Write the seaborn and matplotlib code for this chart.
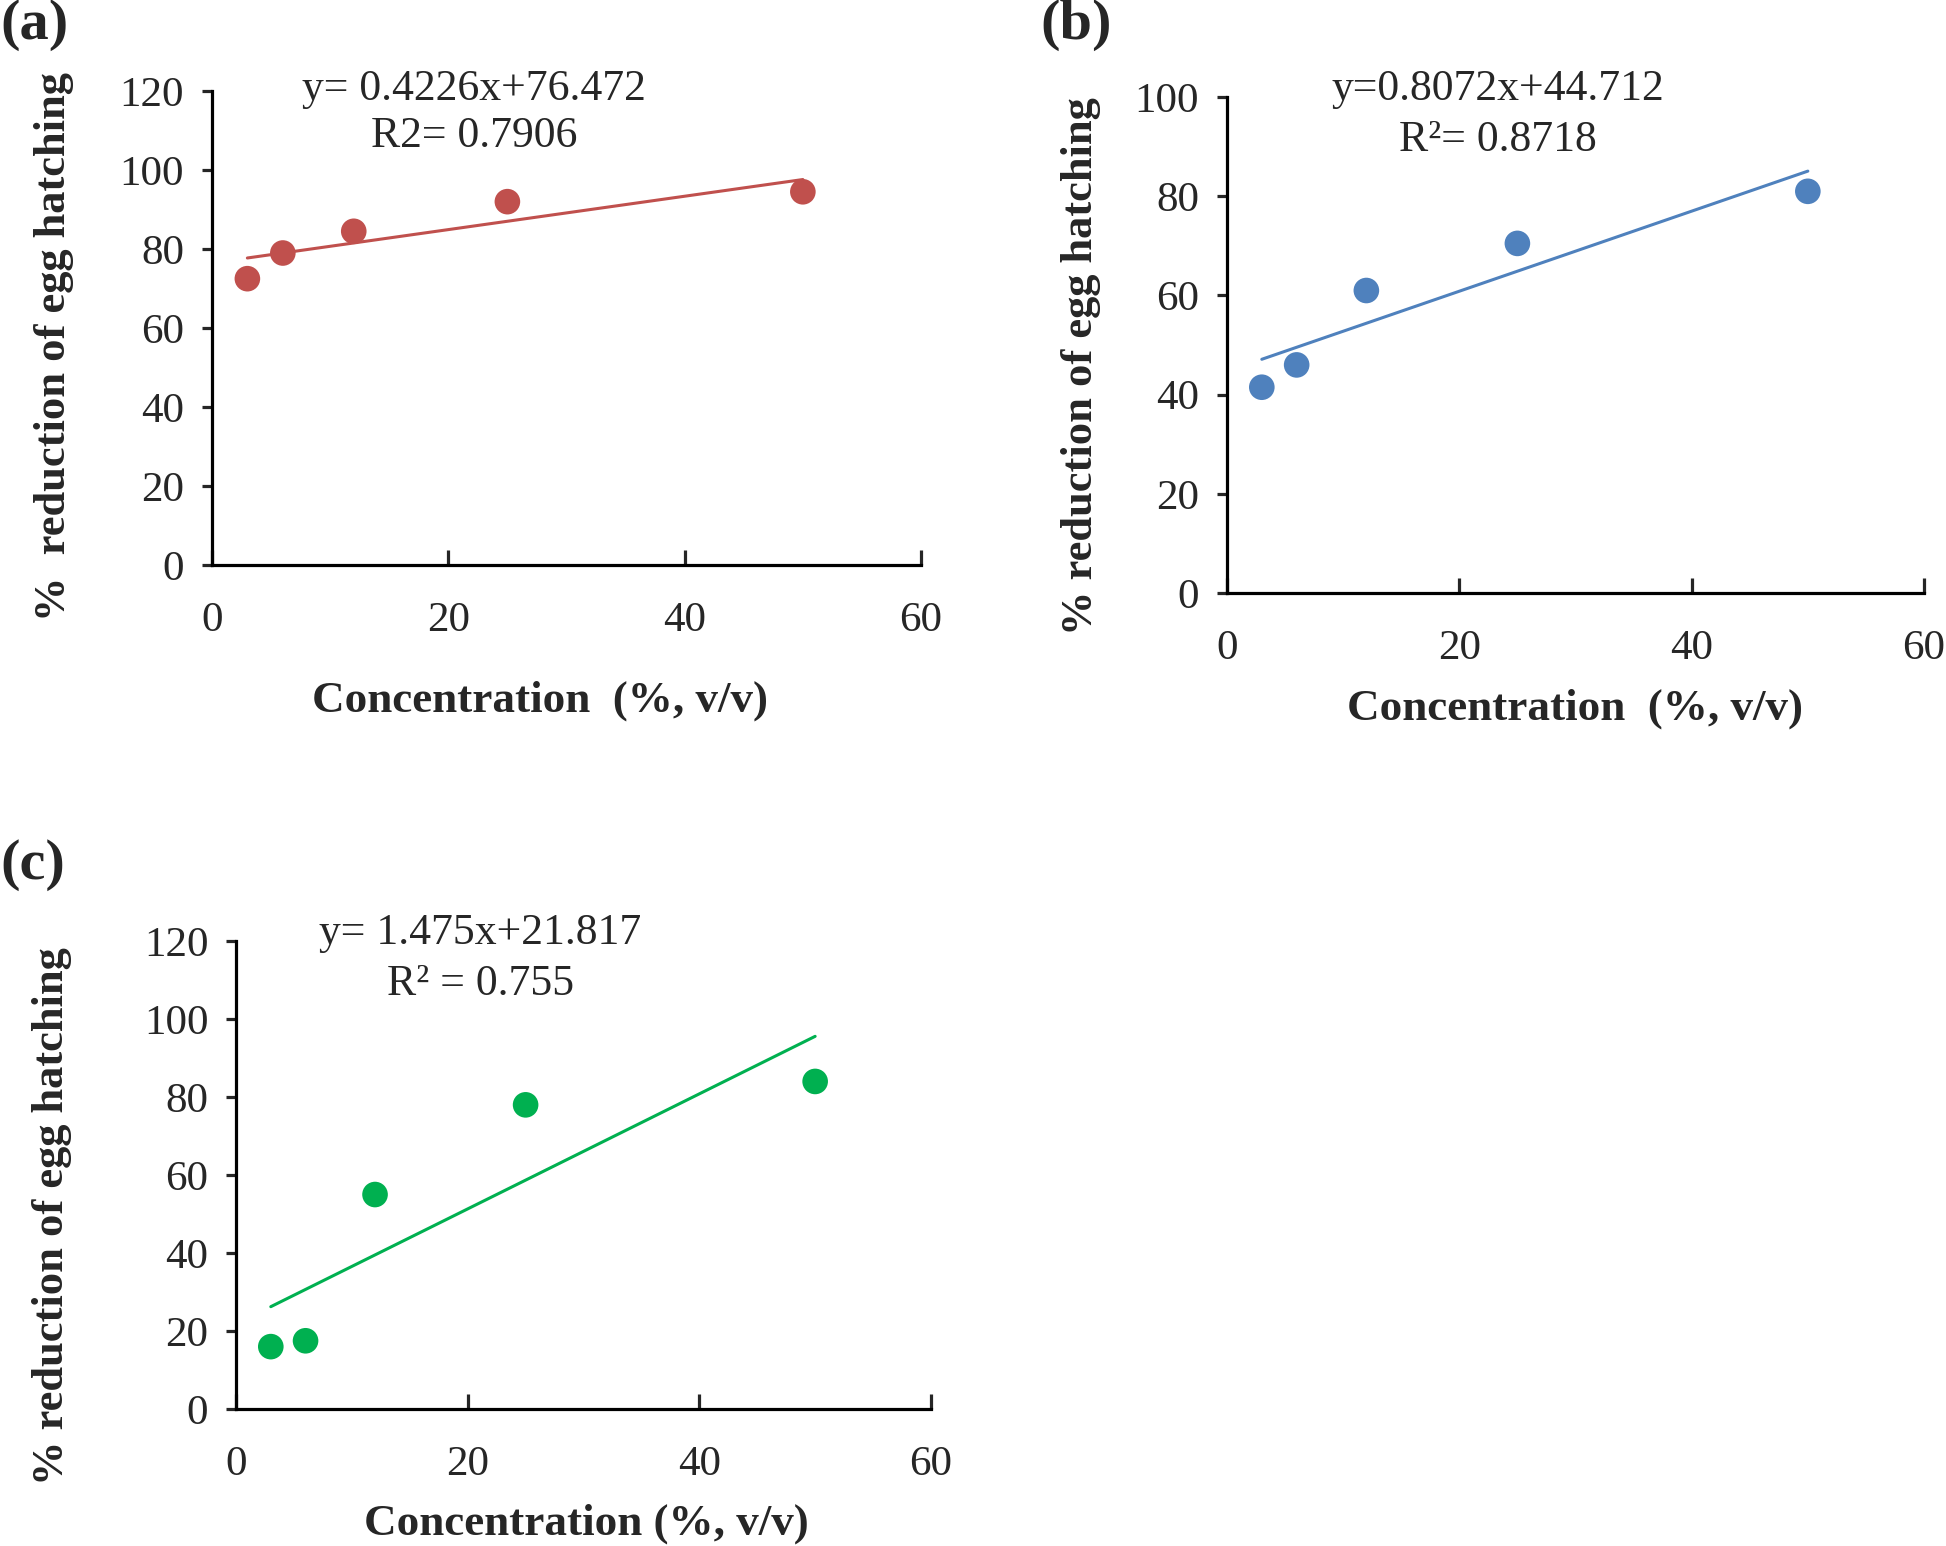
"""
Egg hatching reduction vs concentration, three panels with linear trendlines.
"""

import matplotlib
matplotlib.use("Agg")
import matplotlib.pyplot as plt
import numpy as np
import pandas as pd
import seaborn as sns

# concentrations (%, v/v), shared by all panels
conc = [3, 6, 12, 25, 50]

# % reduction of egg hatching
red_a = [72.5, 79.0, 84.5, 92.0, 94.5]
red_b = [41.5, 46.0, 61.0, 70.5, 81.0]
red_c = [16.0, 17.5, 55.0, 78.0, 84.0]

# trendline coefficients as printed on each panel (slope, intercept)
fit_a = (0.4226, 76.472)
fit_b = (0.8072, 44.712)
fit_c = (1.475, 21.817)

eq_a = ["y= 0.4226x+76.472", "R2= 0.7906"]
eq_b = ["y=0.8072x+44.712", "R\u00b2= 0.8718"]
eq_c = ["y= 1.475x+21.817", "R\u00b2 = 0.755"]

colors = {"a": "#C0504D", "b": "#4F81BD", "c": "#00B050"}

sns.set_style("ticks")
plt.rcParams["font.family"] = ["Liberation Serif", "DejaVu Serif"]


def draw_panel(ax, y, fit, eq, color, ymax, ylabel, xlabel, eq_pos, ylab_pos, xlab_pos):
    df = pd.DataFrame({"conc": conc, "red": y})
    xs = np.array([min(conc), max(conc)])
    ax.plot(xs, fit[0] * xs + fit[1], color=color, linewidth=2.2, zorder=2)
    sns.scatterplot(data=df, x="conc", y="red", ax=ax, color=color, s=340,
                    edgecolor="none", zorder=3, legend=False)

    ax.set_xlim(0, 60)
    ax.set_ylim(0, ymax)
    ax.set_xticks([0, 20, 40, 60])
    ax.set_yticks(np.arange(0, ymax + 1, 20))
    for s in ["top", "right"]:
        ax.spines[s].set_visible(False)
    for s in ["left", "bottom"]:
        ax.spines[s].set_linewidth(2.3)
        ax.spines[s].set_color("black")
    ax.tick_params(axis="x", direction="in", length=11, width=2.3, pad=26, labelsize=31)
    ax.tick_params(axis="y", direction="out", length=7, width=2.3, pad=13, labelsize=31)

    ax.set_xlabel(xlabel, fontsize=32.5, fontweight="bold", va="center")
    ax.set_ylabel(ylabel, fontsize=32, fontweight="bold", va="center")
    ax.xaxis.set_label_coords(*xlab_pos)
    ax.yaxis.set_label_coords(*ylab_pos)

    ax.text(eq_pos[0], eq_pos[1], eq[0], fontsize=31.5, ha="center", va="center", clip_on=False)
    ax.text(eq_pos[0], eq_pos[2], eq[1], fontsize=31.5, ha="center", va="center", clip_on=False)


fig = plt.figure(figsize=(19.46, 15.46), dpi=100)

ax_a = fig.add_axes([0.1089, 0.6345, 0.3644, 0.3066])
ax_b = fig.add_axes([0.6305, 0.6164, 0.3582, 0.3208])
ax_c = fig.add_axes([0.1213, 0.0886, 0.3571, 0.3027])

draw_panel(ax_a, red_a, fit_a, eq_a, colors["a"], 120,
           "%  reduction of egg hatching", "Concentration  (%, v/v)",
           (22.2, 120.5, 108.5), (-0.222, 0.46), (0.463, -0.287))
draw_panel(ax_b, red_b, fit_b, eq_b, colors["b"], 100,
           "% reduction of egg hatching", "Concentration  (%, v/v)",
           (23.3, 101.6, 91.3), (-0.209, 0.458), (0.50, -0.234))
draw_panel(ax_c, red_c, fit_c, eq_c, colors["c"], 120,
           "% reduction of egg hatching", "Concentration (%, v/v)",
           (21.1, 122.0, 109.0), (-0.265, 0.412), (0.504, -0.246))

fig.text(0.0, 1 - 25 / 1546, "(a)", fontsize=42, fontweight="bold", ha="left", va="center")
fig.text(1040 / 1946, 1 - 25 / 1546, "(b)", fontsize=42, fontweight="bold", ha="left", va="center")
fig.text(0.0, 1 - 865 / 1546, "(c)", fontsize=42, fontweight="bold", ha="left", va="center")

fig.savefig("out.png", dpi=100)
